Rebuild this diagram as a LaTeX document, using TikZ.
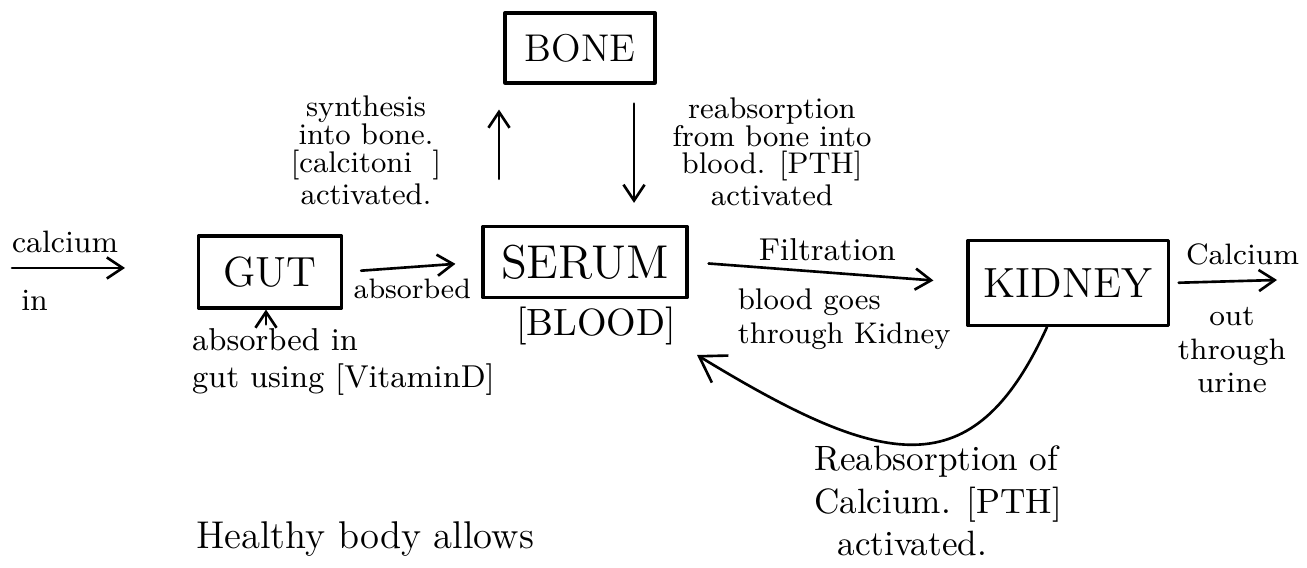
\documentclass[tikz,border=0pt]{standalone}
\usetikzlibrary{arrows.meta}
\tikzset{box/.style={draw=black,line width=.9pt,inner sep=0pt},
 flow/.style={-{Straight Barb[length=4.5pt,width=6pt]},line width=.75pt},
 note/.style={inner sep=1pt,align=center},
 every picture/.style={line join=round,line cap=round}}
\newcommand{\fs}[2]{\fontsize{#1}{#2}\selectfont}

\begin{document}
\begin{tikzpicture}[x=0.01cm,y=-0.01cm]
\useasboundingbox (0,0) rectangle (1307,568);
% boxes
\node[box,minimum width=1.50cm,minimum height=0.70cm,font=\fs{11}{11}] (bone) at (580,48) {BONE};
\node[box,minimum width=1.43cm,minimum height=0.72cm,font=\fs{12}{12}] (gut) at (270,272) {GUT};
\node[box,minimum width=2.04cm,minimum height=0.71cm,font=\fs{13.5}{13.5}] (serum) at (585,262) {SERUM};
\node[box,minimum width=2.00cm,minimum height=0.85cm,font=\fs{12}{12}] (kidney) at (1068,283) {KIDNEY};
\node[note,font=\fs{10.8}{10.8}] (blood) at (596,326) {[BLOOD]};
% notes
\node[note,font=\fs{8.5}{8}] (synnote) at (366,150) {synthesis\\into bone.\\{[calcitoni\ \ ]}\\activated.};
\node[note,font=\fs{8.5}{7.8}] (renote) at (772,152) {reabsorption\\from bone into\\blood. [PTH]\\activated};
\node[note,align=left,anchor=west,font=\fs{9}{10.5}] (gutnote) at (188,362) {absorbed in\\gut using [VitaminD]};
\node[note,align=left,anchor=west,font=\fs{10}{12}] (kinote) at (810,501) {Reabsorption of\\Calcium. [PTH]\\\ \ activated.};
\node[note,font=\fs{11}{11}] (healthy) at (365,539) {Healthy body allows};
% free ends
\coordinate (inA) at (12,268);
\coordinate (inB) at (125,268);
\coordinate (outB) at (1277,280);
\coordinate (back) at (697,355);
\coordinate (synX) at (499,0);
\coordinate (reX) at (634,0);
\coordinate (gutX) at (266,0);
% connectors
\draw[flow] (inA) -- (inB)
 node[pos=.47,above=3pt,note,font=\fs{8.8}{8.8}] {calcium}
 node[pos=.2,below=5pt,note,font=\fs{8.8}{8.8}] {in};
\draw[flow,shorten <=.18cm,shorten >=.26cm] (gut.east) -- (serum.west)
 node[pos=.5,below=2pt,note,font=\fs{8}{8}] {absorbed};
\draw[flow,shorten <=.46cm,shorten >=.25cm] (serum.north -| synX) -- (bone.south -| synX);
\draw[flow,shorten <=.19cm,shorten >=.22cm] (bone.south -| reX) -- (serum.north -| reX);
\draw[flow,shorten <=.2cm,shorten >=.33cm] (serum.east) -- (kidney.west)
 node[pos=.5,above=2pt,note,font=\fs{9}{9}] {Filtration}
 node[pos=.56,below=3pt,note,align=left,font=\fs{8.5}{9.5}] {blood goes\\through Kidney};
\draw[flow,shorten <=.09cm] (kidney.east) -- (outB)
 node[pos=.68,above=3pt,note,font=\fs{8.4}{8.4}] {Calcium}
 node[pos=.58,below=6pt,note,font=\fs{8.4}{9.6}] {out\\through\\urine};
\draw[flow] (gutnote.north -| gutX) -- (gut.south -| gutX);
\draw[flow,-{Straight Barb[length=7pt,width=9pt]}] ([xshift=-.21cm]kidney.south) .. controls (973,489) and (884,469) .. (back);
\end{tikzpicture}
\end{document}
